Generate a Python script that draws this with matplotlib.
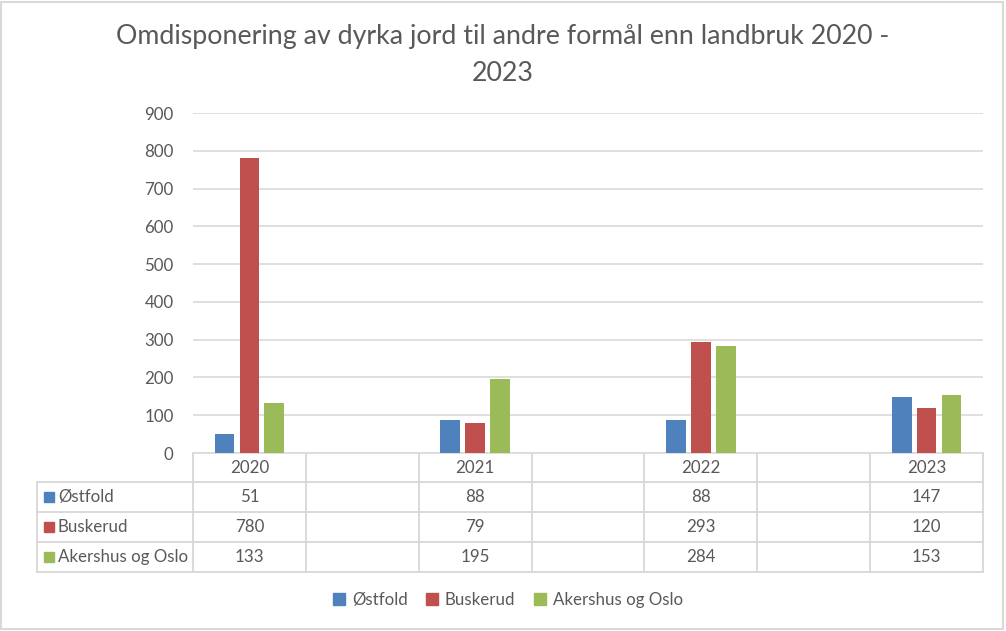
import numpy as np
import matplotlib.pyplot as plt
from matplotlib.lines import Line2D
from matplotlib.patches import Rectangle
from matplotlib.transforms import blended_transform_factory

years = ['2020', '2021', '2022', '2023']
ostfold = [51, 88, 88, 147]
buskerud = [780, 79, 293, 120]
akershus = [133, 195, 284, 153]
series_names = ['Østfold', 'Buskerud', 'Akershus og Oslo']
colors = ['#4F81BD', '#C0504D', '#9BBB59']
title = 'Omdisponering av dyrka jord til andre formål enn landbruk 2020 -\n2023'

plt.rcParams['font.family'] = ['Lato', 'DejaVu Sans']
txt = '#595959'
grid = '#D9D9D9'
fs = 12.2

W, H = 1006, 631
fig = plt.figure(figsize=(W / 100, H / 100), dpi=100)

# plot area in pixels: x 193..983, y 113..453
ax = fig.add_axes([193 / W, 1 - 453 / H, 790 / W, 340 / H])
# overlay in pixel coords for the data table
tab = fig.add_axes([0, 0, 1, 1], zorder=-1)
tab.set_xlim(0, W)
tab.set_ylim(H, 0)
tab.axis('off')

# 7 slots: each year followed by an empty spacer slot (as in the original)
nslots = 2 * len(years) - 1
xpos = np.arange(len(years)) * 2
series = [ostfold, buskerud, akershus]
bw = 0.175
offs = [-0.22, 0, 0.22]
for vals, c, o in zip(series, colors, offs):
    ax.bar(xpos + o, vals, width=bw, color=c, zorder=3)

ax.set_xlim(-0.5, nslots - 0.5)
ax.set_ylim(0, 900)
ax.set_yticks(np.arange(0, 901, 100))
ax.yaxis.grid(True, color=grid, lw=1.2, zorder=0)
ax.set_xticks([])
ax.tick_params(axis='y', length=0, pad=14, labelsize=fs, labelcolor=txt)
for s in ['top', 'right', 'left']:
    ax.spines[s].set_visible(False)
ax.spines['bottom'].set_color(grid)
ax.spines['bottom'].set_linewidth(1.2)

# data table under the axis
tr = blended_transform_factory(ax.transData, tab.transData)
row_y = [453, 482, 512, 542, 572]
lc = dict(color=grid, lw=1.4)
for yy in row_y[1:]:
    tab.plot([37, 983], [yy, yy], **lc)
tab.plot([37, 37], [482, 572], **lc)
for k in range(nslots + 1):
    tab.add_line(Line2D([k - 0.5, k - 0.5], [453, 572], transform=tr, **lc))
for i, yr in enumerate(years):
    tab.text(xpos[i], 468, yr, transform=tr, ha='center', va='center',
             fontsize=fs, color=txt)
    for r, vals in enumerate(series):
        tab.text(xpos[i], (row_y[r + 1] + row_y[r + 2]) / 2, str(vals[i]),
                 transform=tr, ha='center', va='center', fontsize=fs, color=txt)
for r, (name, c) in enumerate(zip(series_names, colors)):
    yc = (row_y[r + 1] + row_y[r + 2]) / 2
    tab.add_patch(Rectangle((44, yc - 5), 10, 10, color=c))
    tab.text(58, yc, name, ha='left', va='center', fontsize=fs, color=txt)

fig.suptitle(title, x=0.5, y=1 - 24 / H, va='top', fontsize=19.3, color=txt,
             linespacing=1.6)

handles = [Rectangle((0, 0), 1, 1, color=c) for c in colors]
fig.legend(handles, series_names, loc='center', ncol=3,
           bbox_to_anchor=(508 / W, 1 - 600 / H), frameon=False,
           fontsize=fs, labelcolor=txt, handlelength=0.7, handleheight=0.7,
           handletextpad=0.4, columnspacing=1.1)

fig.add_artist(Rectangle((1 / W, 2 / H), 1 - 4 / W, 1 - 4 / H,
                         transform=fig.transFigure, fill=False,
                         edgecolor=grid, lw=1.5))

plt.savefig('out.png', dpi=100)
